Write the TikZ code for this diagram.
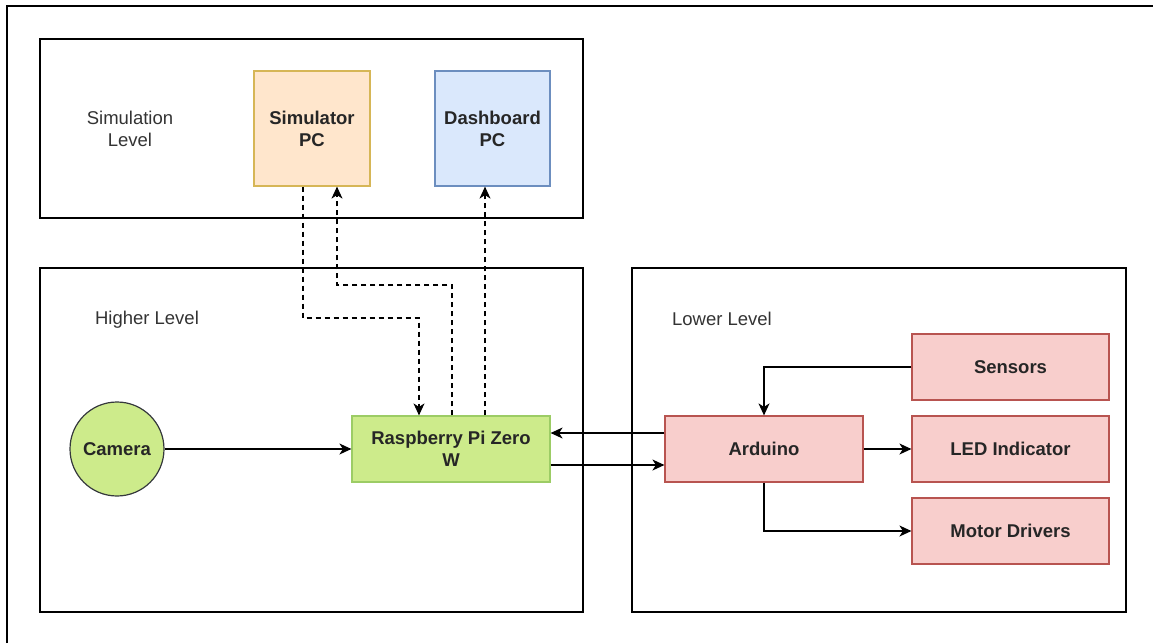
\documentclass[tikz,border=0pt]{standalone}
\usepackage{fontspec}
\setmainfont{Liberation Sans}
\usetikzlibrary{arrows.meta}
\definecolor{orfill}{HTML}{FFE6CC}\definecolor{ordraw}{HTML}{D6B656}
\definecolor{blfill}{HTML}{DAE8FC}\definecolor{bldraw}{HTML}{6C8EBF}
\definecolor{grfill}{HTML}{CDEB8B}\definecolor{grdraw}{HTML}{9CCC65}
\definecolor{camdraw}{HTML}{36393D}
\definecolor{rdfill}{HTML}{F8CECC}\definecolor{rddraw}{HTML}{B85450}
\definecolor{lbl}{HTML}{333333}
\tikzset{
  every node/.style={font=\fontsize{18.5}{22}\selectfont, align=center, inner sep=0pt},
  group/.style={draw=black, line width=1.4pt},
  blk/.style={line width=1.2pt, font=\fontsize{18.5}{22}\selectfont\bfseries, text=black!85},
  grouplabel/.style={text=lbl},
  conn/.style={line width=1.3pt, -{Stealth[length=12pt,width=11pt,inset=3.5pt]}},
  dconn/.style={conn, dash pattern=on 5pt off 4pt},
}
\begin{document}
\begin{tikzpicture}[x=1pt,y=-1pt]
\useasboundingbox (0,0) rectangle (1153,643);
% outer frame (left and top only)
\draw[line width=1.4pt] (7,643) -- (7,6) -- (1153,6);
% group boxes
\draw[group] (40,39) rectangle (583,218);
\draw[group] (40,268) rectangle (583,612);
\draw[group] (632,268) rectangle (1126,612);
\node[grouplabel] (simlbl) at (130,129) {Simulation\\Level};
\node[grouplabel] (hilbl) at (147,320) {Higher Level};
\node[grouplabel] (lolbl) at (722,319) {Lower Level};
% blocks
\node[blk, draw=ordraw, fill=orfill, minimum width=116pt, minimum height=115pt] (sim) at (312,128.5) {Simulator\\PC};
\node[blk, draw=bldraw, fill=blfill, minimum width=115pt, minimum height=115pt] (dash) at (492.5,128.5) {Dashboard\\PC};
\node[blk, circle, draw=camdraw, fill=grfill, minimum size=94pt] (cam) at (117,449) {Camera};
\node[blk, draw=grdraw, fill=grfill, minimum width=198pt, minimum height=66pt] (rpi) at (451,449) {Raspberry Pi Zero\\W};
\node[blk, draw=rddraw, fill=rdfill, minimum width=198pt, minimum height=66pt] (ard) at (764,449) {Arduino};
\node[blk, draw=rddraw, fill=rdfill, minimum width=197pt, minimum height=66pt] (sens) at (1010.5,367) {Sensors};
\node[blk, draw=rddraw, fill=rdfill, minimum width=197pt, minimum height=66pt] (led) at (1010.5,449) {LED Indicator};
\node[blk, draw=rddraw, fill=rdfill, minimum width=197pt, minimum height=66pt] (mot) at (1010.5,531) {Motor Drivers};
% solid connectors
\draw[conn] (cam.east) -- (rpi.west);
\draw[conn] (ard.west |- 0,433) -- (rpi.east |- 0,433);
\draw[conn] (rpi.east |- 0,465) -- (ard.west |- 0,465);
\draw[conn] (sens.west) -| (ard.north);
\draw[conn] (ard.east) -- (led.west);
\draw[conn] (ard.south) |- (mot.west);
% dashed connectors
\draw[dconn] (sim.south -| 303,0) |- (419,318) -- (rpi.north -| 419,0);
\draw[dconn] (rpi.north -| 452,0) |- (337,285) -- (sim.south -| 337,0);
\draw[dconn] (rpi.north -| 485,0) -- (dash.south -| 485,0);
\end{tikzpicture}
\end{document}
